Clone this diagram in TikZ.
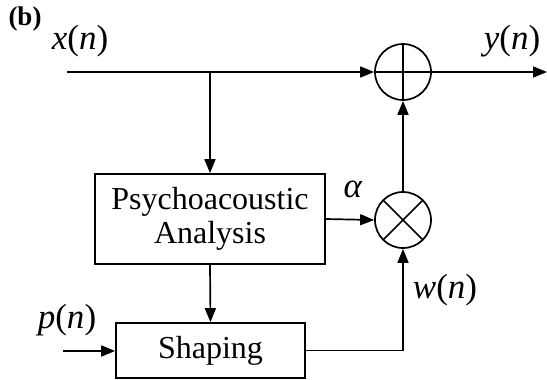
\documentclass[tikz,border=0pt]{standalone}
\usepackage{fontspec}
\setmainfont{Liberation Serif}
\usetikzlibrary{arrows.meta}
\begin{document}
\begin{tikzpicture}[x=1pt,y=-1pt,
  line width=1.7pt,
  flow/.style={-{Triangle[length=14pt,width=11pt]}},
  blockbox/.style={draw,rectangle,inner sep=0pt,align=center,font=\fontsize{32}{36}\selectfont},
  junction/.style={draw,circle,minimum size=56pt,inner sep=0pt},
  sumnode/.style={junction,path picture={
      \draw (path picture bounding box.north) -- (path picture bounding box.south)
            (path picture bounding box.west) -- (path picture bounding box.east);}},
  prodnode/.style={junction,path picture={
      \draw (path picture bounding box.north west) -- (path picture bounding box.south east)
            (path picture bounding box.north east) -- (path picture bounding box.south west);}},
  sig/.style={font=\fontsize{35}{38}\selectfont}]
\useasboundingbox (0,0) rectangle (547,380);

% blocks
\node[blockbox,minimum width=230pt,minimum height=90pt] (psy) at (210,219)
  {Psychoacoustic\\[-2pt]Analysis};
\node[blockbox,minimum width=189pt,minimum height=55pt] (shp) at (210.5,350.5) {Shaping};
\node[sumnode] (plus) at (403,72) {};
\node[prodnode] (times) at (403,220) {};

% free ends
\coordinate (xin) at (67,72);
\coordinate (br) at (psy.north |- xin);
\coordinate (yout) at (547,72);
\coordinate (pin) at (63,351);

% connectors
\draw[flow] (xin) -- (plus.west);
\draw[flow] (br) -- (psy.north);
\draw[flow] (plus.east) -- (yout);
\draw[flow] (psy.east) -- (times.west);
\draw[flow] (times.north) -- (plus.south);
\draw[flow] (psy.south) -- (shp.north);
\draw[flow] (pin) -- (pin -| shp.west);
\draw[flow] (shp.east) -| (times.south);

% labels
\node[font=\fontsize{27}{30}\selectfont\bfseries] (lb) at (25,19) {(b)};
\node[sig] (lx) at (80,41) {\textit{x}(\textit{n})};
\node[sig] (ly) at (512,41) {\textit{y}(\textit{n})};
\node[sig] (la) at (353,189) {\textit{α}};
\node[sig] (lw) at (445,290) {\textit{w}(\textit{n})};
\node[sig] (lp) at (67,320) {\textit{p}(\textit{n})};
\end{tikzpicture}
\end{document}
